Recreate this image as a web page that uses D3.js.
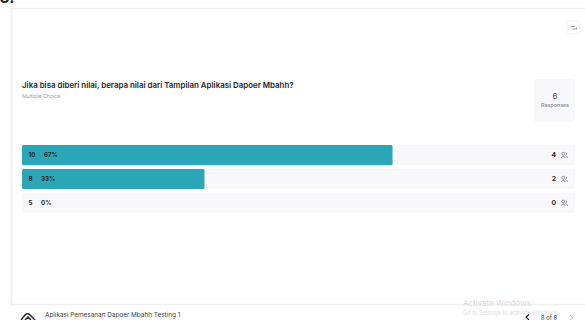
<!DOCTYPE html>
<html>
<head>
<meta charset="utf-8">
<script src="https://cdn.jsdelivr.net/npm/d3@7/dist/d3.min.js"></script>
<style>
html,body{margin:0;padding:0;background:#fff;overflow:hidden}
svg{display:block}
text{font-family:Inter,"Open Sans",sans-serif}
</style>
</head>
<body>
<svg id="chart" width="585" height="320"></svg>
<script>
// Survey results: one row per rating option
const ratings = ["10", "8", "5"];
const percents = [67, 33, 0];
const counts = [4, 2, 0];
const questionTitle = "Jika bisa diberi nilai, berapa nilai dari Tampilan Aplikasi Dapoer Mbahh?";
const questionType = "Multiple Choice";
const responseTotal = 6;
const surveyName = "Aplikasi Pemesanan Dapoer Mbahh Testing 1";
const pageLabel = "8 of 8";

const svg = d3.select("#chart");
const x = d3.scaleLinear().domain([0, 100]).range([22, 575]);
const y = d3.scaleBand().domain(ratings).range([145, 213]).paddingInner(0.155);

// Fragment of the heading above the card, cut off by the top edge
svg.append("text").attr("x", -1).attr("y", 3).attr("font-size", 17)
  .attr("font-weight", 600).attr("fill", "#222").text("6.");

// Card outline: left, top and bottom edges
svg.append("path").attr("d", "M11.5 8 V304.5 H585 M11 8.5 H585")
  .attr("fill", "none").attr("stroke", "#efeff1").attr("stroke-width", 1.5);

// Small collapse button in the card corner
const btn = svg.append("g").attr("transform", "translate(567,21)");
btn.append("rect").attr("width", 13).attr("height", 13).attr("rx", 3)
  .attr("fill", "#fff").attr("stroke", "#f3f3f5");
btn.append("path").attr("d", "M3.5 5.5 H8 M5.5 8 H9.5 V6.5")
  .attr("fill", "none").attr("stroke", "#9a9da4").attr("stroke-width", 1);

// Question heading
svg.append("text").attr("x", 22).attr("y", 87.5).attr("font-size", 7.9)
  .attr("font-weight", 600).attr("fill", "#23252b").text(questionTitle);
svg.append("text").attr("x", 22).attr("y", 97.5).attr("font-size", 5.2)
  .attr("fill", "#9a9da6").text(questionType);

// Response total box
svg.append("rect").attr("x", 534).attr("y", 79).attr("width", 41).attr("height", 43)
  .attr("rx", 3).attr("fill", "#f8f8fb");
svg.append("text").attr("x", 555).attr("y", 99).attr("text-anchor", "middle")
  .attr("font-size", 8).attr("fill", "#50535b").text(responseTotal);
svg.append("text").attr("x", 555).attr("y", 107).attr("text-anchor", "middle")
  .attr("font-size", 5.4).attr("fill", "#7d808a").text("Responses");

// Rows: track, filled bar, labels and respondent count
const rows = svg.selectAll("g.row").data(ratings).join("g").attr("class", "row")
  .attr("transform", d => `translate(0,${y(d)})`);

rows.append("rect").attr("x", x(0)).attr("width", x(100) - x(0))
  .attr("height", y.bandwidth()).attr("rx", 2).attr("fill", "#f8f8fb");

rows.append("rect").attr("x", x(0))
  .attr("width", (d, i) => x(percents[i]) - x(0))
  .attr("height", y.bandwidth()).attr("rx", 1.5).attr("fill", "#2ba6b7");

const mid = y.bandwidth() / 2 + 2;
rows.append("text").attr("x", 28.5).attr("y", mid).attr("font-size", 6.2)
  .attr("font-weight", 700).attr("fill", "#23262b").text(d => d);
rows.append("text").attr("x", d => d.length > 1 ? 44 : 41).attr("y", mid)
  .attr("font-size", 6.2).attr("font-weight", 700).attr("fill", "#23262b")
  .text((d, i) => percents[i] + "%");
rows.append("text").attr("x", 556).attr("y", mid).attr("text-anchor", "end")
  .attr("font-size", 6.8).attr("font-weight", 700).attr("fill", "#2a2d33")
  .text((d, i) => counts[i]);

// Pair-of-people glyph beside each count
const people = rows.append("g").attr("transform", `translate(561,${y.bandwidth() / 2 - 3})`)
  .attr("fill", "none").attr("stroke", "#6a6d75").attr("stroke-width", 0.7);
people.append("circle").attr("cx", 2.2).attr("cy", 1.6).attr("r", 1.4);
people.append("path").attr("d", "M0 6 Q2.2 2.6 4.4 6");
people.append("path").attr("d", "M4.6 0.4 A1.4 1.4 0 0 1 4.6 3 M5 3.6 Q6.2 4.4 6.6 6");

// Footer: logo, survey name, pagination
svg.append("path").attr("d", "M21 320 L25 315 Q27.5 312.5 30 315 L35 320 M25 320 L28 317 L31 320")
  .attr("fill", "none").attr("stroke", "#25272c").attr("stroke-width", 1.5);
svg.append("text").attr("x", 45).attr("y", 316.5).attr("font-size", 6.4)
  .attr("fill", "#3b3d44").text(surveyName);

// Operating system watermark lying over the footer
svg.append("text").attr("x", 463).attr("y", 306).attr("font-size", 8)
  .attr("fill", "#dcdcdf").text("Activate Windows");
svg.append("text").attr("x", 463).attr("y", 314.5).attr("font-size", 5.7)
  .attr("fill", "#e0e0e4").text("Go to Settings to activate Windows.");

svg.append("path").attr("d", "M529 314.5 L526 317 L529 320")
  .attr("fill", "none").attr("stroke", "#222").attr("stroke-width", 1.2);
svg.append("text").attr("x", 549).attr("y", 319.5).attr("text-anchor", "middle")
  .attr("font-size", 5.8).attr("fill", "#33353b").text(pageLabel);
svg.append("path").attr("d", "M570 315 L573 318 L570 320")
  .attr("fill", "none").attr("stroke", "#c4c5ca").attr("stroke-width", 1);
</script>
</body>
</html>
